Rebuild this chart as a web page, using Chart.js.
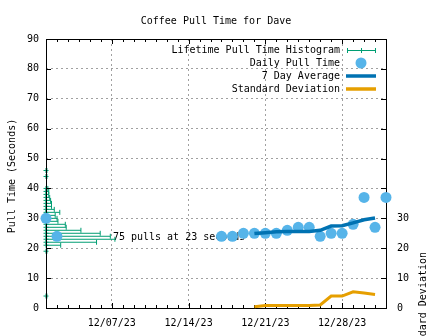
<!DOCTYPE html>
<html>
<head>
<meta charset="utf-8">
<title>Coffee Pull Time for Dave</title>
<script src="https://cdn.jsdelivr.net/npm/chart.js@4.4.1/dist/chart.umd.min.js"></script>
<style>
  html, body { margin: 0; padding: 0; background: #fff; }
</style>
</head>
<body>
<canvas id="pullChart" width="448" height="336"></canvas>
<script>
// --- data ---
const chartTitle = 'Coffee Pull Time for Dave';
const yTitle = 'Pull Time (Seconds)';
const y2Title = 'Standard Deviation';

const xStart = '2023-12-01';
const xEnd = '2024-01-01';
const xTickDates = ['2023-12-07', '2023-12-14', '2023-12-21', '2023-12-28'];
const y2Ticks = [0, 10, 20, 30];

const dailyDates = ['2023-12-01', '2023-12-02',
  '2023-12-17', '2023-12-18', '2023-12-19', '2023-12-20', '2023-12-21', '2023-12-22',
  '2023-12-23', '2023-12-24', '2023-12-25', '2023-12-26', '2023-12-27', '2023-12-28',
  '2023-12-29', '2023-12-30', '2023-12-31', '2024-01-01'];
const dailyTimes = [30, 24, 24, 24, 25, 25, 25, 25, 26, 27, 27, 24, 25, 25, 28, 37, 27, 37];

const avgDates = ['2023-12-20', '2023-12-21', '2023-12-22', '2023-12-23', '2023-12-24', '2023-12-25',
  '2023-12-26', '2023-12-27', '2023-12-28', '2023-12-29', '2023-12-30', '2023-12-31'];
const avgTimes = [24.9, 25.2, 25.5, 25.6, 25.6, 25.6, 26.0, 27.4, 27.5, 28.5, 29.5, 30.1];
const stdDevs = [0.4, 0.8, 0.8, 0.8, 0.8, 0.8, 1.0, 4.0, 4.0, 5.4, 5.0, 4.5];

const histSeconds = [4, 19, 21, 22, 23, 24, 25, 26, 27, 28, 29, 30, 31, 32, 33, 34, 35, 36, 37, 38, 39, 40, 44, 46];
const histCounts = [1, 1, 16, 55, 75, 70, 59, 38, 22, 21, 13, 12, 10, 15, 9, 6, 6, 5, 4, 3, 3, 2, 1, 1];

const GREEN = '#009E73', SKY = '#56B4E9', BLUE = '#0072B2', ORANGE = '#E69F00';
const FONT = '10px "DejaVu Sans Mono", monospace';

function dayOf(s) {
  return (Date.parse(s) - Date.parse(xStart)) / 86400000;
}
function fmtDate(day) {
  const d = new Date(Date.parse(xStart) + day * 86400000);
  const p = n => String(n).padStart(2, '0');
  return p(d.getUTCMonth() + 1) + '/' + p(d.getUTCDate()) + '/' + p(d.getUTCFullYear() % 100);
}

// histogram: one "errorbar" per bin, start point on the axis, end point at the count
const histPoints = [];
histSeconds.forEach((s, i) => {
  histPoints.push({ x: 0, y: s }, { x: histCounts[i], y: s });
});

function drawFrame(chart) {
  const { ctx, chartArea: a, scales } = chart;
  ctx.save();
  ctx.strokeStyle = '#000';
  ctx.lineWidth = 1;
  ctx.strokeRect(a.left + 0.5, a.top + 0.5, a.right - a.left, a.bottom - a.top);

  const majors = xTickDates.map(dayOf);
  ctx.beginPath();
  for (let d = scales.x.min; d <= scales.x.max; d++) {
    const px = Math.round(scales.x.getPixelForValue(d)) + 0.5;
    const len = majors.includes(d) ? 5 : 3;
    ctx.moveTo(px, a.bottom); ctx.lineTo(px, a.bottom - len);
    ctx.moveTo(px, a.top); ctx.lineTo(px, a.top + len);
  }
  scales.y.ticks.forEach(t => {
    const py = Math.round(scales.y.getPixelForValue(t.value)) + 0.5;
    ctx.moveTo(a.left, py); ctx.lineTo(a.left + 5, py);
    ctx.moveTo(a.right, py); ctx.lineTo(a.right - 5, py);
  });
  ctx.stroke();
  ctx.restore();
}

// gnuplot-ish frame, titles, key and label
const gnuplotLook = {
  id: 'gnuplotLook',
  beforeDatasetsDraw(chart) {
    const { ctx, scales } = chart;
    // label on the tallest histogram bin, behind the data
    const top = histCounts.indexOf(Math.max(...histCounts));
    ctx.save();
    ctx.font = FONT;
    ctx.fillStyle = '#000';
    ctx.textAlign = 'left';
    ctx.textBaseline = 'middle';
    ctx.fillText(histCounts[top] + ' pulls at ' + histSeconds[top] + ' seconds',
      scales.xh.getPixelForValue(histCounts[top]) - 2,
      scales.y.getPixelForValue(histSeconds[top]) - 2);
    ctx.restore();
  },
  afterDatasetDraw(chart, args) {
    // frame goes over the histogram but under the daily points and lines
    if (args.index === 0) drawFrame(chart);
  },
  afterDraw(chart) {
    const { ctx, chartArea: a } = chart;
    ctx.save();
    ctx.font = FONT;
    ctx.fillStyle = '#000';
    ctx.textBaseline = 'middle';

    ctx.textAlign = 'center';
    ctx.fillText(chartTitle, (a.left + a.right) / 2, 21);

    ctx.save();
    ctx.translate(12, 176);
    ctx.rotate(-Math.PI / 2);
    ctx.fillText(yTitle, 0, 0);
    ctx.restore();

    ctx.save();
    ctx.translate(423, 252);
    ctx.rotate(-Math.PI / 2);
    ctx.textAlign = 'right';
    ctx.fillText(y2Title, 0, 0);
    ctx.restore();

    // key, top right inside the plot
    const tx = 340, s0 = 347, s1 = 375, sm = 361;
    const rows = [50, 63, 76, 89];
    const names = ['Lifetime Pull Time Histogram', 'Daily Pull Time', '7 Day Average', 'Standard Deviation'];
    ctx.textAlign = 'right';
    names.forEach((n, i) => ctx.fillText(n, tx, rows[i]));

    ctx.strokeStyle = GREEN;
    ctx.lineWidth = 1;
    ctx.beginPath();
    ctx.moveTo(s0, rows[0] + 0.5); ctx.lineTo(s1, rows[0] + 0.5);
    ctx.moveTo(s0 + 0.5, rows[0] - 2); ctx.lineTo(s0 + 0.5, rows[0] + 3);
    ctx.moveTo(s1 + 0.5, rows[0] - 2); ctx.lineTo(s1 + 0.5, rows[0] + 3);
    ctx.moveTo(sm + 0.5, rows[0] - 2); ctx.lineTo(sm + 0.5, rows[0] + 3);
    ctx.stroke();

    ctx.fillStyle = SKY;
    ctx.beginPath();
    ctx.arc(sm, rows[1], 5.5, 0, Math.PI * 2);
    ctx.fill();

    ctx.lineWidth = 3.5;
    ctx.strokeStyle = BLUE;
    ctx.beginPath(); ctx.moveTo(s0 - 1, rows[2]); ctx.lineTo(s1 + 1, rows[2]); ctx.stroke();
    ctx.strokeStyle = ORANGE;
    ctx.beginPath(); ctx.moveTo(s0 - 1, rows[3]); ctx.lineTo(s1 + 1, rows[3]); ctx.stroke();
    ctx.restore();
  }
};

Chart.defaults.font.family = '"DejaVu Sans Mono", monospace';
Chart.defaults.font.size = 10;
Chart.defaults.color = '#000';

const ctx = document.getElementById('pullChart');

new Chart(ctx, {
  type: 'scatter',
  data: {
    datasets: [
      {
        label: 'Lifetime Pull Time Histogram',
        data: histPoints,
        xAxisID: 'xh',
        showLine: true,
        borderColor: GREEN,
        borderWidth: 1,
        // hide the joins between one bin's end and the next bin's start
        segment: { borderColor: c => (c.p0DataIndex % 2 === 1 ? 'rgba(0,0,0,0)' : GREEN) },
        pointStyle: c => (c.dataIndex % 2 === 0 ? 'cross' : 'line'),
        pointRotation: c => (c.dataIndex % 2 === 1 ? 90 : 0),
        pointRadius: 2.5,
        pointBorderColor: GREEN,
        pointBackgroundColor: GREEN,
        pointBorderWidth: 1,
        clip: false,
        order: 4
      },
      {
        label: 'Daily Pull Time',
        data: dailyDates.map((d, i) => ({ x: dayOf(d), y: dailyTimes[i] })),
        showLine: false,
        pointRadius: 5.5,
        pointBackgroundColor: SKY,
        pointBorderWidth: 0,
        clip: false,
        order: 3
      },
      {
        label: '7 Day Average',
        data: avgDates.map((d, i) => ({ x: dayOf(d), y: avgTimes[i] })),
        showLine: true,
        borderColor: BLUE,
        borderWidth: 3.5,
        pointRadius: 0,
        order: 2
      },
      {
        label: 'Standard Deviation',
        data: avgDates.map((d, i) => ({ x: dayOf(d), y: stdDevs[i] })),
        yAxisID: 'y2',
        showLine: true,
        borderColor: ORANGE,
        borderWidth: 3,
        pointRadius: 0,
        clip: false,
        order: 1
      }
    ]
  },
  options: {
    responsive: false,
    animation: false,
    events: [],
    layout: { padding: { top: 39, left: 0, right: 0, bottom: 0 } },
    plugins: {
      legend: { display: false },
      tooltip: { enabled: false }
    },
    scales: {
      x: {
        type: 'linear',
        min: dayOf(xStart),
        max: dayOf(xEnd),
        afterBuildTicks: s => { s.ticks = xTickDates.map(d => ({ value: dayOf(d) })); },
        ticks: { callback: v => fmtDate(v), padding: 9, maxRotation: 0, autoSkip: false },
        grid: { color: '#a0a0a0', drawTicks: false },
        border: { display: false, dash: [2, 3] },
        afterFit: s => { s.height = 28; }
      },
      xh: {
        type: 'linear',
        display: false,
        min: 0,
        max: 370
      },
      y: {
        min: 0,
        max: 90,
        ticks: { stepSize: 10, padding: 7 },
        grid: { color: '#a0a0a0', drawTicks: false },
        border: { display: false, dash: [2, 3] },
        afterFit: s => { s.width = 46; }
      },
      y2: {
        position: 'right',
        min: 0,
        max: 90,
        afterBuildTicks: s => { s.ticks = y2Ticks.map(v => ({ value: v })); },
        ticks: { padding: 11 },
        grid: { display: false, drawTicks: false },
        border: { display: false },
        afterFit: s => { s.width = 62; }
      }
    }
  },
  plugins: [gnuplotLook]
});
</script>
</body>
</html>
